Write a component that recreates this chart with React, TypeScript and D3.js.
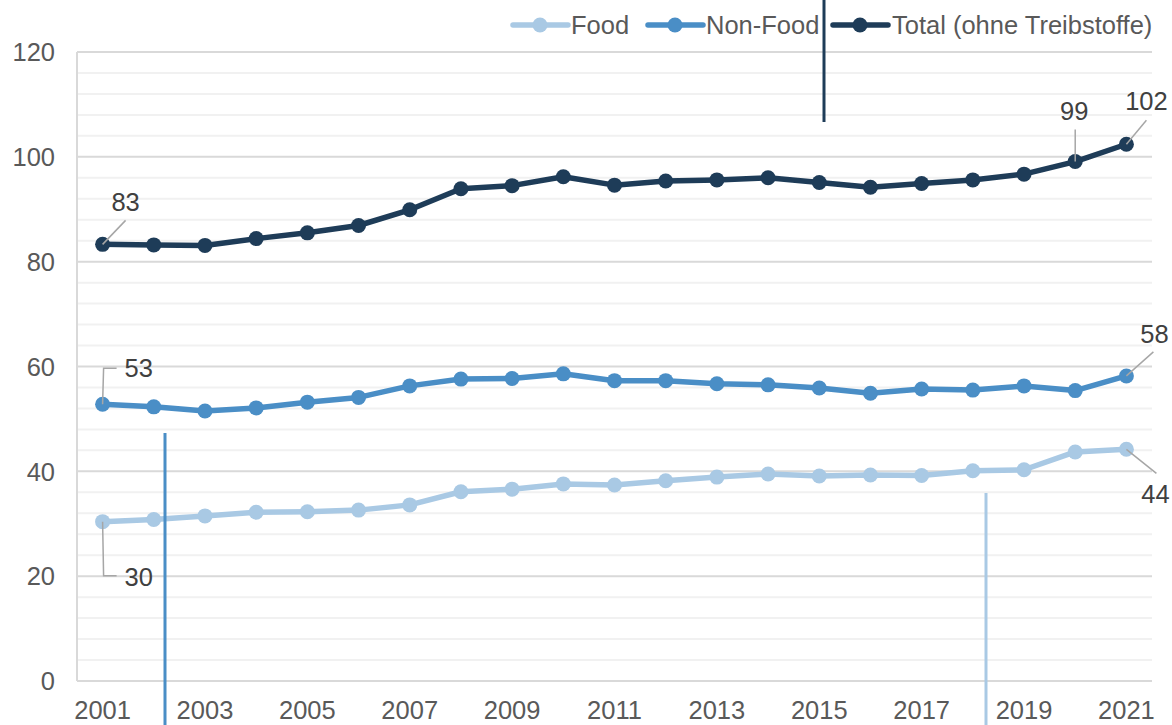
import React from 'react';
import * as d3 from 'd3';

// values
const years = d3.range(2001, 2022).map(String);

const food = [30.4, 30.8, 31.5, 32.2, 32.3, 32.6, 33.6, 36.1, 36.6, 37.6, 37.4,
  38.2, 38.9, 39.5, 39.1, 39.3, 39.2, 40.1, 40.3, 43.7, 44.2];
const nonFood = [52.8, 52.3, 51.5, 52.1, 53.2, 54.1, 56.3, 57.6, 57.7, 58.6, 57.3,
  57.3, 56.7, 56.5, 55.9, 54.9, 55.7, 55.5, 56.3, 55.4, 58.2];
const total = [83.3, 83.2, 83.1, 84.4, 85.5, 86.9, 89.9, 93.9, 94.5, 96.2, 94.6,
  95.4, 95.6, 96.0, 95.1, 94.2, 94.9, 95.6, 96.7, 99.1, 102.4];

const seriesNames = ['Food', 'Non-Food', 'Total (ohne Treibstoffe)'];
const seriesColors = ['#a9c9e4', '#4a8ec6', '#1e3c58'];
const seriesValues = [food, nonFood, total];

const yTicks = [0, 20, 40, 60, 80, 100, 120];

// data labels: series index, year index, shown text
const dataLabels = [
  { s: 2, i: 0, text: '83' },
  { s: 2, i: 19, text: '99' },
  { s: 2, i: 20, text: '102' },
  { s: 1, i: 0, text: '53' },
  { s: 1, i: 20, text: '58' },
  { s: 0, i: 0, text: '30' },
  { s: 0, i: 20, text: '44' },
];

const W = 1172;
const H = 725;
const FONT = '"Liberation Sans", Arial, sans-serif';
const FS = 25.5;

export default function App() {
  const left = 77, right = 1152, top = 52, bottom = 681;

  const x = d3.scalePoint<string>().domain(years).range([left, right]).padding(0.5);
  const y = d3.scaleLinear().domain([0, 120]).range([bottom, top]);

  const line = d3.line<number>()
    .x((_, i) => x(years[i]) as number)
    .y(d => y(d));

  const minor = d3.range(0, 121, 4).filter(v => v % 20 !== 0);

  const px = (s: number, i: number) => x(years[i]) as number;
  const py = (s: number, i: number) => y(seriesValues[s][i]);

  // leader line + label placement for each data label
  const labelGeom = (l: { s: number; i: number; text: string }) => {
    const X = px(l.s, l.i), Y = py(l.s, l.i);
    if (l.text === '83') return { pts: [[X, Y], [X + 23, Y - 24]], tx: X + 23, ty: Y - 43, anchor: 'middle' };
    if (l.text === '99') return { pts: [[X, Y], [X, Y - 32]], tx: X - 1, ty: Y - 51, anchor: 'middle' };
    if (l.text === '102') return { pts: [[X, Y], [X + 20, Y - 24]], tx: X + 20, ty: Y - 43, anchor: 'middle' };
    if (l.text === '53') return { pts: [[X, Y], [X + 1, Y - 36], [X + 14, Y - 36]], tx: X + 22, ty: Y - 36, anchor: 'start' };
    if (l.text === '30') return { pts: [[X, Y], [X + 1, Y + 54], [X + 14, Y + 54]], tx: X + 22, ty: Y + 55, anchor: 'start' };
    if (l.text === '58') return { pts: [[X, Y], [X + 27, Y - 24]], tx: X + 28, ty: Y - 42, anchor: 'middle' };
    return { pts: [[X, Y], [X + 30, Y + 24]], tx: X + 29, ty: Y + 45, anchor: 'middle' };
  };

  const legendItems = [
    { lineX: 513, textX: 571 },
    { lineX: 648, textX: 706 },
    { lineX: 833, textX: 892 },
  ];

  return (
    <svg width={W} height={H} style={{ position: 'absolute', left: 0, top: 0, background: '#fff' }}
      fontFamily={FONT}>
      {/* gridlines */}
      {minor.map(v => (
        <line key={'m' + v} x1={left} x2={right} y1={y(v)} y2={y(v)} stroke="#f1f1f1" strokeWidth={2} />
      ))}
      {yTicks.map(v => (
        <line key={'g' + v} x1={left} x2={right} y1={y(v)} y2={y(v)} stroke="#d9d9d9" strokeWidth={2} />
      ))}
      <line x1={left} x2={left} y1={top} y2={bottom} stroke="#d9d9d9" strokeWidth={2} />

      {/* y tick labels */}
      {yTicks.map(v => (
        <text key={'yt' + v} x={55} y={y(v)} dy="0.36em" textAnchor="end" fontSize={FS} fill="#595959">{v}</text>
      ))}
      {/* x tick labels */}
      {years.filter((_, i) => i % 2 === 0).map(yr => (
        <text key={'xt' + yr} x={x(yr)} y={719} textAnchor="middle" fontSize={FS} fill="#595959">{yr}</text>
      ))}

      {/* series */}
      {seriesValues.map((vals, s) => (
        <g key={'s' + s}>
          <path d={line(vals) as string} fill="none" stroke={seriesColors[s]} strokeWidth={5.5}
            strokeLinejoin="round" strokeLinecap="round" />
          {vals.map((v, i) => (
            <circle key={i} cx={x(years[i])} cy={y(v)} r={7.5} fill={seriesColors[s]} />
          ))}
        </g>
      ))}

      {/* data labels */}
      {dataLabels.map(l => {
        const g = labelGeom(l);
        return (
          <g key={'dl' + l.text}>
            <polyline points={g.pts.map(p => p.join(',')).join(' ')} fill="none" stroke="#a6a6a6" strokeWidth={1.5} />
            <text x={g.tx} y={g.ty} dy="0.36em" textAnchor={g.anchor} fontSize={FS} fill="#404040">{l.text}</text>
          </g>
        );
      })}

      {/* legend */}
      {seriesNames.map((name, s) => (
        <g key={'lg' + s}>
          <line x1={legendItems[s].lineX} x2={legendItems[s].lineX + 55} y1={25} y2={25}
            stroke={seriesColors[s]} strokeWidth={5.5} strokeLinecap="round" />
          <circle cx={legendItems[s].lineX + 27} cy={25} r={7.5} fill={seriesColors[s]} />
          <text x={legendItems[s].textX} y={25} dy="0.36em" fontSize={FS} fill="#595959">{name}</text>
        </g>
      ))}

      {/* stray vertical strokes seen in the reference */}
      <line x1={824} x2={824} y1={0} y2={122} stroke={seriesColors[2]} strokeWidth={3} />
      <line x1={165} x2={165} y1={433} y2={H} stroke={seriesColors[1]} strokeWidth={3} />
      <line x1={986} x2={986} y1={493} y2={H} stroke={seriesColors[0]} strokeWidth={3} />
    </svg>
  );
}
